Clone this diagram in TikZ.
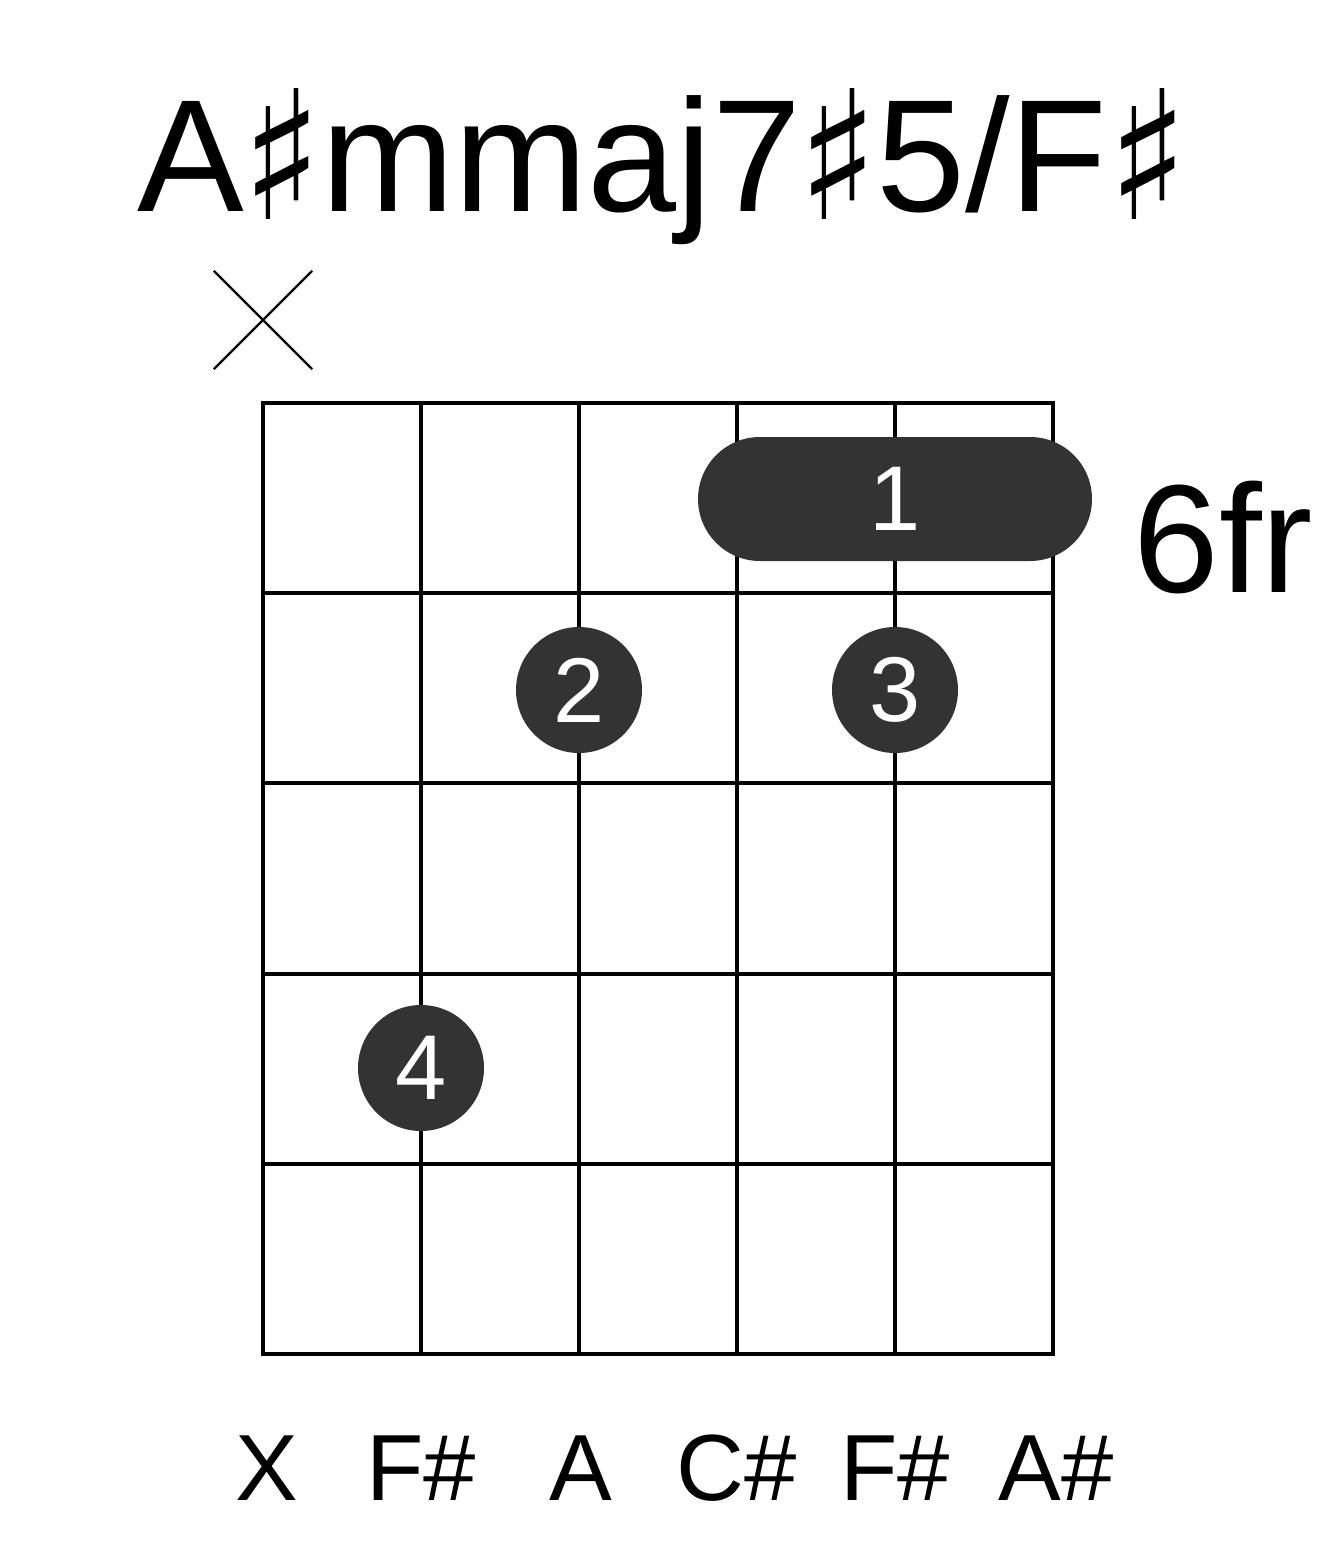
\documentclass[tikz,border=0pt]{standalone}
\usepackage{fontspec}
\setmainfont{Liberation Sans}
\newfontfamily\sharpfont{DejaVu Sans}
\usepackage{tikz}
\usetikzlibrary{shapes.misc, positioning}
\definecolor{dotcolor}{HTML}{333333}

\newcommand{\shp}{\raisebox{-4pt}{\scalebox{1.05}[1.12]{\sharpfont ♯}}}

\begin{document}
\begin{tikzpicture}[
    x=0.5pt, y=-0.5pt,
    gridline/.style={line width=2pt, line cap=rect},
    finger/.style={circle, fill=dotcolor, minimum size=63pt, inner sep=0pt,
                   text=white, font=\fontsize{46}{46}\selectfont},
    barre/.style={rounded rectangle, fill=dotcolor, minimum width=197pt,
                  minimum height=62pt, inner sep=0pt, text=white,
                  font=\fontsize{46}{46}\selectfont},
    note/.style={anchor=base, font=\fontsize{47}{47}\selectfont},
    mute/.style={cross out, draw, line width=1.2pt, minimum size=48pt, inner sep=0pt}
]
\useasboundingbox (0,0) rectangle (1317,1551);

% Title
\node[anchor=base, font=\fontsize{80}{80}\selectfont, inner sep=0pt] (title)
    at (663,212) {A\kern-1pt\shp\kern-1pt mmaj7\kern-2pt\shp\kern-1pt 5/F\shp};

% Grid
\foreach \s in {0,...,5}
    \draw[gridline] (263+158*\s,403) -- (263+158*\s,1354);
\foreach \f in {0,...,5}
    \draw[gridline] (263,403+190.2*\f) -- (1053,403+190.2*\f);

% Muted string
\node[mute] (x1) at (263,320) {};

% Fingers
\node[barre] (bar) at (895,499) {};
\node[text=white, font=\fontsize{46}{46}\selectfont] (one) at (895,499) {1};
\node[finger] (two) at (579,690) {2};
\node[finger] (three) at (895,690) {3};
\node[finger] (four) at (421,1068) {4};

% Fret number
\node[anchor=base west, inner sep=0pt, font=\fontsize{77}{77}\selectfont] (fret)
    at (1133,592) {6fr};

% Notes below
\node[note] (n1) at (267,1500) {X};
\node[note] (n2) at (421,1500) {F\#};
\node[note] (n3) at (581,1500) {A};
\node[note] (n4) at (737,1500) {C\#};
\node[note] (n5) at (895,1500) {F\#};
\node[note] (n6) at (1056,1500) {A\#};

\end{tikzpicture}
\end{document}
